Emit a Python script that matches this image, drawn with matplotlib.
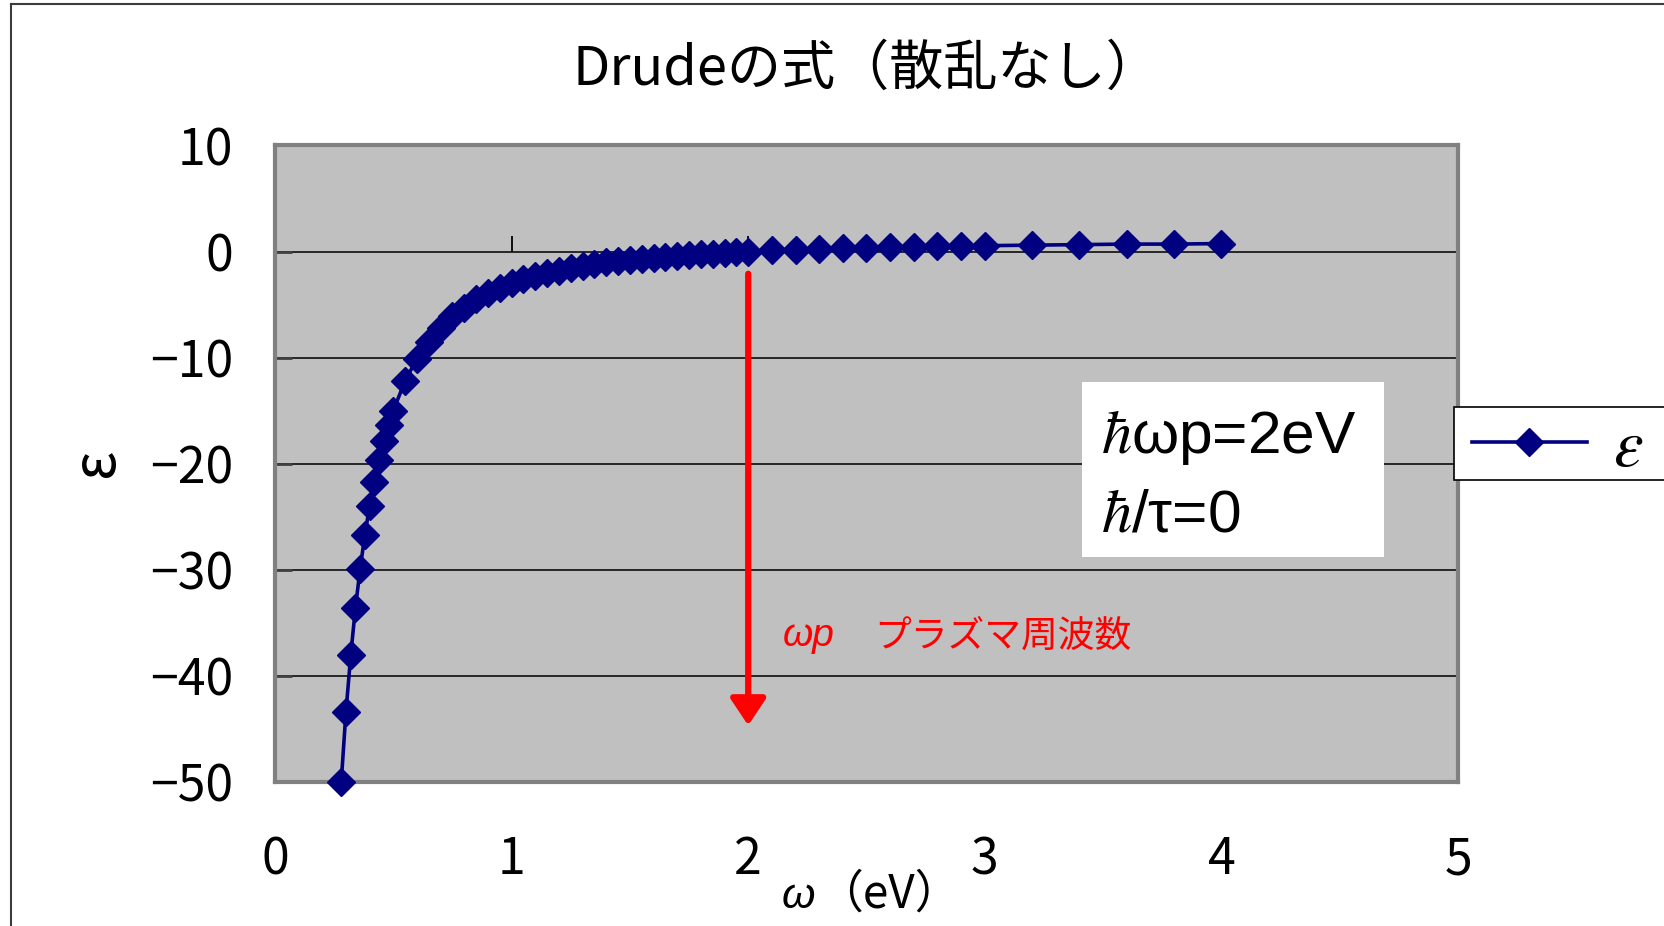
import matplotlib
matplotlib.use('Agg')
import matplotlib.pyplot as plt
from matplotlib.lines import Line2D
from matplotlib.patches import Rectangle

plt.rcParams['font.family'] = ['Noto Sans CJK JP', 'DejaVu Sans']
plt.rcParams['mathtext.fontset'] = 'stix'
plt.rcParams['axes.unicode_minus'] = True

# values (hbar*omega_p = 2 eV, no scattering)
omega = [0.28, 0.30, 0.32, 0.34, 0.36, 0.38, 0.40, 0.42, 0.44, 0.46, 0.48, 0.50,
         0.55, 0.60, 0.65, 0.70, 0.75, 0.80, 0.85, 0.90, 0.95, 1.00,
         1.05, 1.10, 1.15, 1.20, 1.25, 1.30, 1.35, 1.40, 1.45, 1.50,
         1.55, 1.60, 1.65, 1.70, 1.75, 1.80, 1.85, 1.90, 1.95, 2.00,
         2.1, 2.2, 2.3, 2.4, 2.5, 2.6, 2.7, 2.8, 2.9, 3.0,
         3.2, 3.4, 3.6, 3.8, 4.0]
eps = [-50.0, -43.4, -38.1, -33.6, -29.9, -26.7, -24.0, -21.7, -19.7, -17.9, -16.4, -15.0,
       -12.2, -10.1, -8.5, -7.2, -6.1, -5.3, -4.5, -3.9, -3.4, -3.0,
       -2.6, -2.3, -2.0, -1.8, -1.6, -1.4, -1.2, -1.0, -0.9, -0.8,
       -0.7, -0.6, -0.5, -0.4, -0.3, -0.2, -0.2, -0.1, -0.05, 0.0,
       0.1, 0.15, 0.2, 0.3, 0.35, 0.4, 0.45, 0.5, 0.5, 0.55,
       0.6, 0.65, 0.7, 0.7, 0.75]

x_ticks = [0, 1, 2, 3, 4, 5]
y_ticks = [-50, -40, -30, -20, -10, 0, 10]

# arrow marking the plasma frequency
arrow_x = 2.0
arrow_from = -2.1
arrow_to = -44.7

W, H = 1665, 926
fig = plt.figure(figsize=(W / 100, H / 100), dpi=100)
fig.patch.set_facecolor('white')

ax = fig.add_axes([275 / W, 1 - 781.6 / H, (1458 - 275) / W, (781.6 - 145.5) / H])
ax.set_facecolor('#c0c0c0')
ax.set_xlim(0, 5)
ax.set_ylim(-50, 10)
ax.set_xticks(x_ticks)
ax.set_yticks(y_ticks)
ax.tick_params(axis='x', length=0, pad=38, labelsize=36)
ax.tick_params(axis='y', direction='in', length=12, width=2, color='#404040',
               pad=30, labelsize=36)
ax.set_axisbelow(True)
ax.yaxis.grid(True, color='#1a1a1a', lw=1.3)
for s in ax.spines.values():
    s.set_color('#808080')
    s.set_linewidth(3)

# x axis crosses at 0 with small upward ticks
ax.vlines(x_ticks, 0, 1.5, color='black', lw=1.3, zorder=1)

line, = ax.plot(omega, eps, color='#000080', lw=2.6, marker='D', ms=14,
                mec='#000080', mfc='#000080', label=r'$\varepsilon$', zorder=3,
                clip_on=False)

ax.annotate('', xy=(arrow_x, arrow_to), xytext=(arrow_x, arrow_from),
            arrowprops=dict(arrowstyle='-|>,head_length=0.45,head_width=0.3',
                            color='red', lw=4.5, mutation_scale=36,
                            shrinkA=0, shrinkB=0), zorder=2)

fig.text(783 / W, 1 - 636 / H, 'ωp', color='red', fontsize=28,
         family='Liberation Sans', style='italic', va='center', ha='left')
fig.text(874 / W, 1 - 636 / H, 'プラズマ周波数', color='red', fontsize=26.5,
         va='center', ha='left')

# parameter box
fig.add_artist(Rectangle((1082 / W, 1 - 556.5 / H), 302 / W, 174.5 / H,
                         transform=fig.transFigure, fc='white', ec='none', zorder=2))
fig.text(1101 / W, 1 - 453 / H, r'$\hbar$ωp=2eV', fontsize=43.5,
         family='Liberation Sans', va='baseline', ha='left', zorder=3)
fig.text(1101 / W, 1 - 531 / H, r'$\hbar$/τ=0', fontsize=43.5,
         family='Liberation Sans', va='baseline', ha='left', zorder=3)

# legend box runs past the right edge of the picture
fig.add_artist(Rectangle((1454 / W, 1 - 480 / H), 260 / W, 73 / H,
                         transform=fig.transFigure, fc='white', ec='black',
                         lw=1.2, zorder=4))
leg = fig.legend(handles=[line], loc='center left', bbox_to_anchor=(1472 / W, 1 - 447 / H),
                 borderaxespad=0, borderpad=0, fontsize=48, frameon=False,
                 handlelength=1.72, handletextpad=0.4)
leg.set_zorder(5)

fig.text(573 / W, 1 - 69 / H, 'Drudeの式（散乱なし）', fontsize=39, ha='left', va='center')
fig.text(815 / W, 1 - 897 / H, 'ω', fontsize=31, family='Liberation Sans',
         style='italic', ha='right', va='center')
fig.text(817 / W, 1 - 894 / H, '（eV）', fontsize=33, ha='left', va='center')
fig.text(97 / W, 1 - 462 / H, 'ε', fontsize=42, rotation=90, ha='center', va='center')

# outer chart border (left and top edges visible)
fig.add_artist(Line2D([10.6 / W, 10.6 / W], [0, 1 - 4.2 / H], color='#3c3c3c', lw=1.5))
fig.add_artist(Line2D([10.6 / W, 1], [1 - 4.2 / H, 1 - 4.2 / H], color='#3c3c3c', lw=1.5))

fig.savefig('out.png', dpi=100)
